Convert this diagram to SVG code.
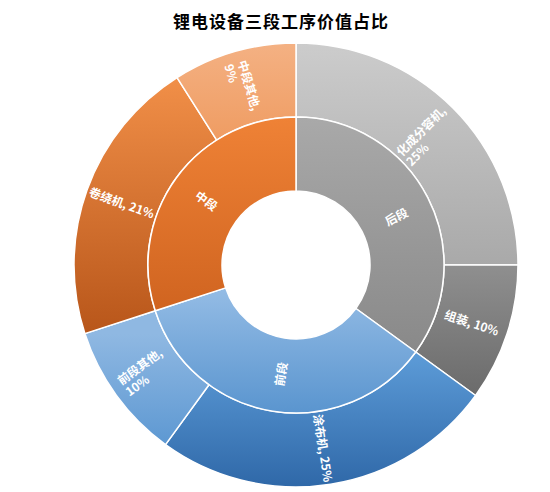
<svg xmlns="http://www.w3.org/2000/svg" width="550" height="492" viewBox="0 0 550 492">
<style>
.seg{stroke:#ffffff;stroke-width:1.5;stroke-linejoin:round}
.lbl{font-family:"Noto Sans CJK SC","Liberation Sans",sans-serif;font-size:12px;font-weight:bold;fill:#ffffff;dominant-baseline:central}
.title{font-family:"Noto Sans CJK SC",sans-serif;font-size:17px;font-weight:bold;fill:#000000;text-anchor:middle;dominant-baseline:central;letter-spacing:1px}
</style>
<defs>
<linearGradient id="gZdqt" gradientUnits="userSpaceOnUse" x1="0" y1="43" x2="0" y2="141"><stop offset="0" stop-color="#f4b183"/><stop offset="1" stop-color="#ef9c62"/></linearGradient>
<linearGradient id="gJrj" gradientUnits="userSpaceOnUse" x1="0" y1="78" x2="0" y2="334"><stop offset="0" stop-color="#f18f48"/><stop offset="1" stop-color="#b8561a"/></linearGradient>
<linearGradient id="gZd" gradientUnits="userSpaceOnUse" x1="0" y1="117" x2="0" y2="311"><stop offset="0" stop-color="#ef8236"/><stop offset="1" stop-color="#d06420"/></linearGradient>
<linearGradient id="gHc" gradientUnits="userSpaceOnUse" x1="0" y1="43" x2="0" y2="265"><stop offset="0" stop-color="#cccccc"/><stop offset="1" stop-color="#a9a9a9"/></linearGradient>
<linearGradient id="gZz" gradientUnits="userSpaceOnUse" x1="0" y1="265" x2="0" y2="395"><stop offset="0" stop-color="#8f8f8f"/><stop offset="1" stop-color="#6b6b6b"/></linearGradient>
<linearGradient id="gHd" gradientUnits="userSpaceOnUse" x1="0" y1="117" x2="0" y2="352"><stop offset="0" stop-color="#a9a9a9"/><stop offset="1" stop-color="#898989"/></linearGradient>
<linearGradient id="gQdqt" gradientUnits="userSpaceOnUse" x1="0" y1="334" x2="0" y2="445"><stop offset="0" stop-color="#8fb8e2"/><stop offset="1" stop-color="#5d98d2"/></linearGradient>
<linearGradient id="gTbj" gradientUnits="userSpaceOnUse" x1="0" y1="352" x2="0" y2="487"><stop offset="0" stop-color="#5d9cd8"/><stop offset="1" stop-color="#2f68a8"/></linearGradient>
<linearGradient id="gQd" gradientUnits="userSpaceOnUse" x1="0" y1="288" x2="0" y2="413"><stop offset="0" stop-color="#94bce5"/><stop offset="1" stop-color="#5a95cf"/></linearGradient>
</defs>
<text class="title" x="281" y="20">锂电设备三段工序价值占比</text>
<g id="n-huacheng"><path class="seg" fill="url(#gHc)" d="M296,43 A222,222 0 0 1 518,265 L444,265 A148,148 0 0 0 296,117 Z"/><text class="lbl" transform="translate(425,135) rotate(-45)"><tspan x="-32" y="-7">化成分容机,</tspan><tspan x="-32" y="7">25%</tspan></text></g>
<g id="n-zuzhuang"><path class="seg" fill="url(#gZz)" d="M518,265 A222,222 0 0 1 475.6,395.49 L415.73,352 A148,148 0 0 0 444,265 Z"/><text class="lbl" text-anchor="middle" transform="translate(472,322) rotate(18)">组装, 10%</text></g>
<g id="n-tubu"><path class="seg" fill="url(#gTbj)" d="M475.6,395.49 A222,222 0 0 1 165.51,444.6 L209.01,384.73 A148,148 0 0 0 415.73,352 Z"/><text class="lbl" text-anchor="middle" transform="translate(324,448) rotate(81)">涂布机, 25%</text></g>
<g id="n-qianduanqita"><path class="seg" fill="url(#gQdqt)" d="M165.51,444.6 A222,222 0 0 1 84.86,333.6 L155.24,310.73 A148,148 0 0 0 209.01,384.73 Z"/><text class="lbl" transform="translate(143,371) rotate(-36)"><tspan x="-26" y="-7">前段其他,</tspan><tspan x="-26" y="7">10%</tspan></text></g>
<g id="n-juanrao"><path class="seg" fill="url(#gJrj)" d="M84.86,333.6 A222,222 0 0 1 177.05,77.56 L216.7,140.04 A148,148 0 0 0 155.24,310.73 Z"/><text class="lbl" text-anchor="middle" transform="translate(122,202) rotate(19.8)">卷绕机, 21%</text></g>
<g id="n-zhongduanqita"><path class="seg" fill="url(#gZdqt)" d="M177.05,77.56 A222,222 0 0 1 296,43 L296,117 A148,148 0 0 0 216.7,140.04 Z"/><text class="lbl" transform="translate(244,87) rotate(73.8)"><tspan x="-26" y="-7">中段其他,</tspan><tspan x="-26" y="7">9%</tspan></text></g>
<g id="n-houduan"><path class="seg" fill="url(#gHd)" d="M296,117 A148,148 0 0 1 415.73,352 L355.87,308.5 A74,74 0 0 0 296,191 Z"/><text class="lbl" text-anchor="middle" transform="translate(396,216) rotate(-27)">后段</text></g>
<g id="n-qianduan"><path class="seg" fill="url(#gQd)" d="M415.73,352 A148,148 0 0 1 155.24,310.73 L225.62,287.87 A74,74 0 0 0 355.87,308.5 Z"/><text class="lbl" text-anchor="middle" transform="translate(280,374) rotate(-81)">前段</text></g>
<g id="n-zhongduan"><path class="seg" fill="url(#gZd)" d="M155.24,310.73 A148,148 0 0 1 296,117 L296,191 A74,74 0 0 0 225.62,287.87 Z"/><text class="lbl" text-anchor="middle" transform="translate(207,200) rotate(36)">中段</text></g>
<g id="connectors"></g>
</svg>
